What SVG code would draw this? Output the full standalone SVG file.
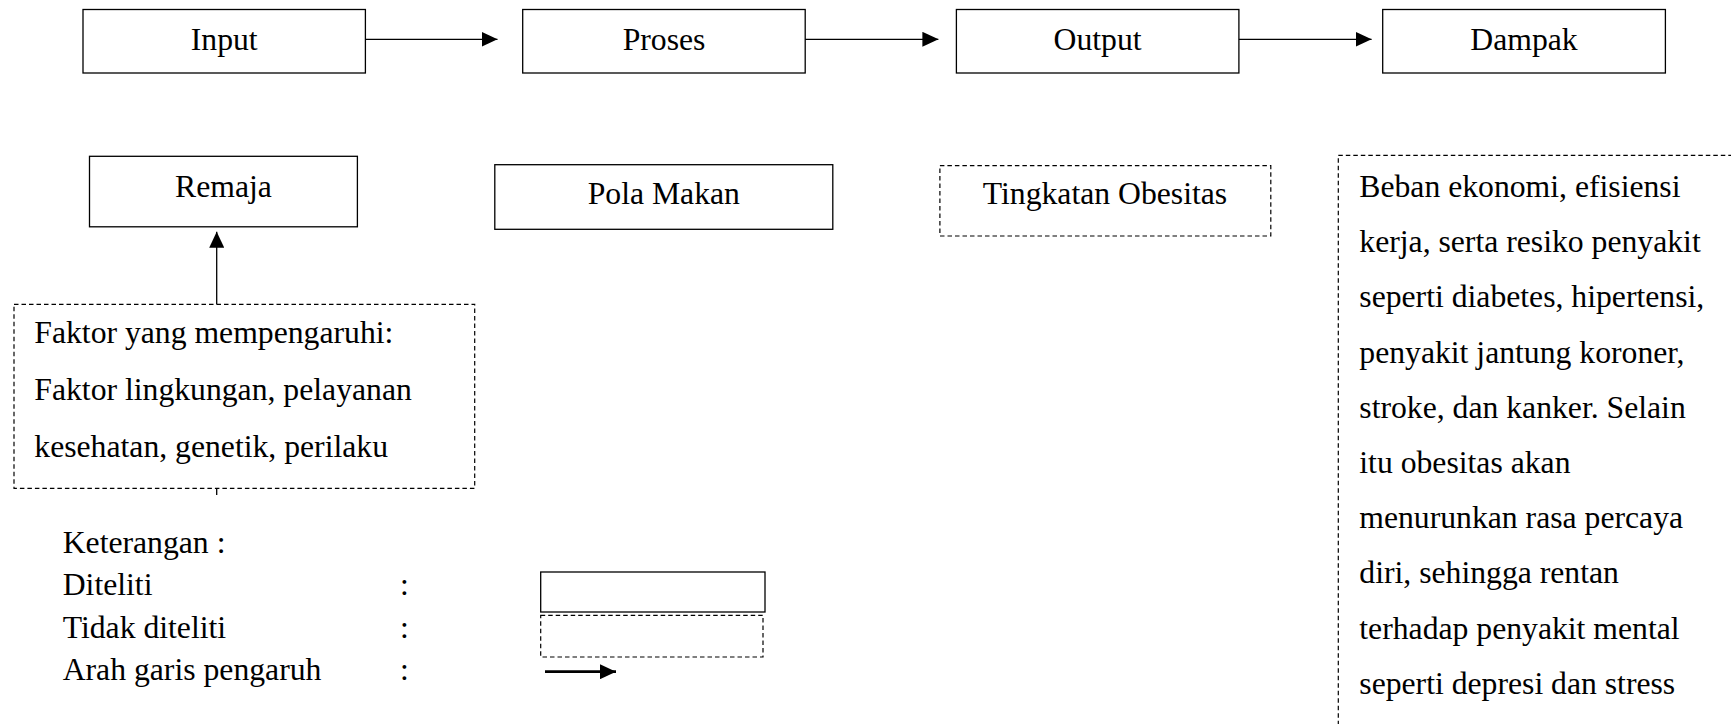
<svg xmlns="http://www.w3.org/2000/svg" width="1731" height="724" viewBox="0 0 1731 724">
<style>
text{font-family:'Liberation Serif','Times New Roman',serif;font-size:31.7px;fill:#000}
.box{fill:#fff;stroke:#000;stroke-width:1.3}
.dash{fill:#fff;stroke:#000;stroke-width:1.2;stroke-dasharray:4.5 3}
.conn{stroke:#000;stroke-width:1.3;fill:none}
.c{text-anchor:middle}
</style>
<defs>
<marker id="ah" markerUnits="userSpaceOnUse" markerWidth="16" markerHeight="15" refX="16" refY="7.5" orient="auto">
<path d="M0,0 L16,7.5 L0,15 Z" fill="#000"/>
</marker>
</defs>
<rect width="1731" height="724" fill="#fff"/>

<g id="input"><rect class="box" x="83" y="9.5" width="282.4" height="63.5"/><text class="c" x="224.2" y="50">Input</text></g>
<g id="proses"><rect class="box" x="522.7" y="9.5" width="282.5" height="63.5"/><text class="c" x="664" y="50">Proses</text></g>
<g id="output"><rect class="box" x="956.4" y="9.5" width="282.5" height="63.5"/><text class="c" x="1097.6" y="50">Output</text></g>
<g id="dampak"><rect class="box" x="1382.7" y="9.5" width="282.7" height="63.5"/><text class="c" x="1524" y="50">Dampak</text></g>

<g id="remaja"><rect class="box" x="89.5" y="156.3" width="267.9" height="70.5"/><text class="c" x="223.5" y="197">Remaja</text></g>
<g id="pola-makan"><rect class="box" x="494.8" y="164.7" width="338" height="64.6"/><text class="c" x="663.8" y="204">Pola Makan</text></g>
<g id="tingkatan-obesitas"><rect class="dash" x="939.9" y="165.7" width="330.9" height="70.3"/><text class="c" x="1105" y="204">Tingkatan Obesitas</text></g>

<g id="faktor"><rect class="dash" x="14" y="304.3" width="460.7" height="184"/>
<text x="34.3" y="343">Faktor yang mempengaruhi:</text>
<text x="34.3" y="400">Faktor lingkungan, pelayanan</text>
<text x="34.3" y="457">kesehatan, genetik, perilaku</text></g>

<g id="dampak-detail"><rect class="dash" x="1338.3" y="155.3" width="420" height="600"/>
<text x="1359.3" y="197">Beban ekonomi, efisiensi</text>
<text x="1359.3" y="252.2">kerja, serta resiko penyakit</text>
<text x="1359.3" y="307.4">seperti diabetes, hipertensi,</text>
<text x="1359.3" y="362.6">penyakit jantung koroner,</text>
<text x="1359.3" y="417.8">stroke, dan kanker. Selain</text>
<text x="1359.3" y="473">itu obesitas akan</text>
<text x="1359.3" y="528.2">menurunkan rasa percaya</text>
<text x="1359.3" y="583.4">diri, sehingga rentan</text>
<text x="1359.3" y="638.6">terhadap penyakit mental</text>
<text x="1359.3" y="693.8">seperti depresi dan stress</text></g>

<g id="connectors">
<line class="conn" x1="365.4" y1="39.3" x2="497.5" y2="39.3" marker-end="url(#ah)"/>
<line class="conn" x1="805.2" y1="39.3" x2="938.4" y2="39.3" marker-end="url(#ah)"/>
<line class="conn" x1="1238.9" y1="39.3" x2="1371.6" y2="39.3" marker-end="url(#ah)"/>
<line class="conn" x1="216.7" y1="304.3" x2="216.7" y2="231.7" marker-end="url(#ah)"/>
<line class="conn" x1="216.7" y1="488.3" x2="216.7" y2="495"/>
</g>

<g id="legend">
<text x="62.7" y="553">Keterangan :</text>
<text x="62.7" y="595">Diteliti</text>
<text x="62.7" y="638">Tidak diteliti</text>
<text x="62.7" y="680">Arah garis pengaruh</text>
<text x="400" y="595">:</text>
<text x="400" y="638">:</text>
<text x="400" y="680">:</text>
<rect class="box" x="540.7" y="572" width="224.3" height="40"/>
<rect class="dash" x="540.7" y="615.3" width="222.3" height="41.7"/>
<line x1="545" y1="671.7" x2="616" y2="671.7" stroke="#000" stroke-width="2.7" marker-end="url(#ah)"/>
</g>
</svg>
